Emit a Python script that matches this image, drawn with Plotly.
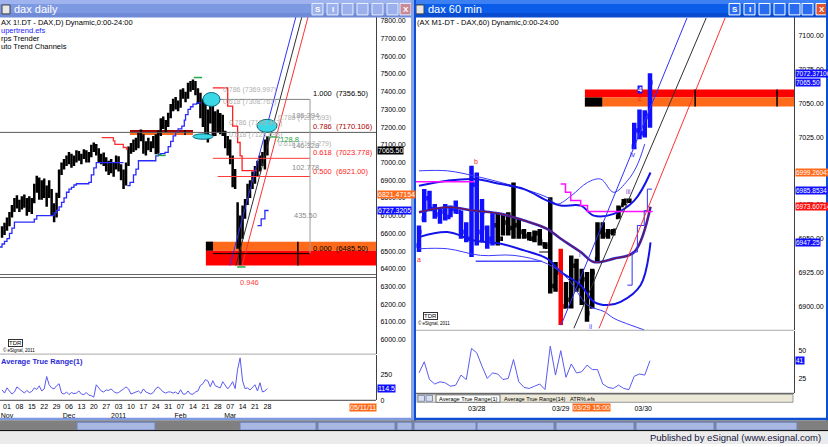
import plotly.graph_objects as go

W, H = 828, 447

# ---------------- left window: DAX daily (bar 0 = 01 Nov 2010) ----------------
daily_idx = list(range(-2, 106))
daily_open = [6600, 6620, 6645, 6670, 6700, 6745, 6790, 6760, 6775, 6795, 6760, 6790,
              6740, 6785, 6860, 6900, 6810, 6880, 6830, 6860, 6820, 6740,
              6700, 6810, 6950, 6990, 7000, 7010, 7035, 6995, 7030, 7050,
              7025, 7040, 7060, 7015, 7045, 7085, 7095, 7060, 7020, 7035,
              7000, 6970, 6990, 6960, 6985, 7020, 6970, 6930, 6880, 6990,
              7080, 7090, 7110, 7090, 7160, 7150, 7080, 7100, 7090, 7110,
              7130, 7060, 7170, 7240, 7210, 7220, 7270, 7320, 7340, 7330,
              7320, 7400, 7380, 7370, 7440, 7420, 7450, 7400, 7350, 7280,
              7330, 7180, 7280, 7300, 7180, 7260, 7200, 7250, 7170, 7100,
              7120, 7010, 6880, 6760, 6560, 6650, 6700, 6770, 6860, 6880,
              6920, 6950, 6990, 7020, 7000, 7100]
daily_high = [6640, 6660, 6690, 6720, 6760, 6800, 6815, 6790, 6810, 6820, 6800, 6810,
              6800, 6880, 6925, 6915, 6900, 6910, 6870, 6900, 6850, 6770,
              6830, 6960, 7000, 7020, 7040, 7060, 7050, 7040, 7070, 7065,
              7050, 7075, 7070, 7060, 7100, 7113, 7105, 7080, 7050, 7057,
              7030, 7010, 7020, 7000, 7040, 7035, 6990, 6960, 7000, 7090,
              7110, 7130, 7140, 7170, 7187, 7160, 7120, 7140, 7120, 7150,
              7160, 7180, 7250, 7260, 7240, 7281, 7330, 7360, 7370, 7350,
              7412, 7420, 7400, 7450, 7460, 7469, 7460, 7420, 7394, 7360,
              7380, 7300, 7350, 7340, 7290, 7300, 7280, 7270, 7180, 7150,
              7130, 7040, 6963, 6775, 6701, 6757, 6794, 6880, 6900, 6950,
              6980, 7010, 7040, 7060, 7130, 7148]
daily_low = [6575, 6590, 6615, 6640, 6690, 6720, 6740, 6720, 6735, 6745, 6700, 6720,
             6710, 6770, 6830, 6790, 6790, 6800, 6750, 6800, 6700, 6663,
             6690, 6800, 6930, 6960, 6980, 6990, 6970, 6980, 7000, 7010,
             6990, 7020, 7000, 7000, 7030, 7060, 7040, 7000, 6990, 6980,
             6950, 6930, 6940, 6920, 6960, 6950, 6900, 6850, 6870, 6980,
             7050, 7060, 7070, 7080, 7120, 7050, 7040, 7070, 7060, 7080,
             7047, 7050, 7150, 7190, 7170, 7200, 7250, 7290, 7300, 7290,
             7310, 7360, 7340, 7360, 7400, 7410, 7380, 7330, 7250, 7200,
             7140, 7113, 7220, 7150, 7150, 7170, 7160, 7150, 7080, 7040,
             6990, 6860, 6850, 6513, 6420, 6570, 6682, 6760, 6800, 6850,
             6880, 6920, 6950, 6980, 6960, 7040]
daily_close = [6620, 6645, 6670, 6700, 6745, 6790, 6760, 6775, 6795, 6760, 6790, 6740,
               6785, 6860, 6900, 6810, 6880, 6830, 6860, 6820, 6740, 6700,
               6810, 6950, 6990, 7000, 7010, 7035, 6995, 7030, 7050, 7025,
               7040, 7060, 7015, 7045, 7085, 7095, 7060, 7020, 7035, 7000,
               6970, 6990, 6960, 6985, 7020, 6970, 6930, 6880, 6990, 7080,
               7090, 7110, 7090, 7160, 7150, 7080, 7100, 7090, 7110, 7130,
               7060, 7170, 7240, 7210, 7220, 7270, 7320, 7340, 7330, 7320,
               7400, 7380, 7370, 7440, 7420, 7450, 7400, 7350, 7280, 7330,
               7180, 7280, 7300, 7180, 7260, 7200, 7250, 7170, 7100, 7120,
               7010, 6880, 6900, 6560, 6650, 6700, 6770, 6860, 6880, 6920,
               6950, 6990, 7020, 7000, 7100, 7065.5]
daily_atr = [100, 70, 120, 90, 60, 80, 130, 110, 90, 70, 95, 75,
             85, 120, 105, 140, 90, 110, 230, 150, 120, 110,
             140, 160, 70, 60, 80, 55, 75, 65, 70, 90,
             60, 55, 75, 50, 45, 30, 150, 120, 90, 80,
             100, 95, 110, 85, 70, 75, 90, 110, 130, 110,
             60, 70, 80, 90, 67, 110, 80, 70, 60, 75,
             113, 130, 100, 80, 70, 81, 80, 70, 80, 60,
             102, 60, 60, 90, 60, 59, 80, 90, 144, 160,
             200, 187, 130, 190, 140, 130, 120, 180, 150, 110,
             140, 180, 113, 300, 410, 187, 112, 120, 100, 130,
             150, 90, 170, 80, 90, 114.5]
daily_tickvals = [0, 5, 10, 15, 20, 25, 30, 35, 40, 45, 50, 55, 60, 65, 70, 75, 80, 85, 90, 95, 100, 105]
daily_ticktext = ['01<br>Nov', '08', '15', '22', '29', '06<br>Dec', '13', '20', '27', '03<br>2011', '10',
                  '17', '24', '31', '07<br>Feb', '14', '21', '28', '07<br>Mar', '14', '21', '28']
daily_price_ticks = [6000, 6100, 6200, 6300, 6400, 6500, 6600, 6700, 6800, 6900,
                     7000, 7100, 7200, 7300, 7400, 7500, 7600, 7700, 7800]

# supertrend / arps steps (bar index, price)
st_blue1_x = [-3, -2, -1, 0, 1, 2, 3, 11, 12, 19, 20, 21, 22, 23, 24, 25, 26, 27, 28, 33, 34, 35, 36, 47]
st_blue1_y = [6523, 6540, 6555, 6570, 6600, 6630, 6663, 6680, 6700, 6716, 6730, 6750, 6775, 6800,
              6832, 6850, 6860, 6873, 6880, 6888, 6930, 6970, 7000, 7000]
st_red1_x = [38.2, 42.9, 43.5, 46.9, 48.3]
st_red1_y = [7141, 7122, 7103, 7085, 7071]
st_blue2_x = [48.5, 49.6, 51, 52, 53, 60, 61, 62, 63.7, 65, 66, 67, 68, 69, 70.5, 71.5, 72, 73, 74, 75, 76.5, 78]
st_blue2_y = [6870, 6888, 6930, 6963, 7010, 7038, 7045, 7050, 7057, 7090, 7120, 7150, 7170, 7190,
              7206, 7240, 7270, 7300, 7315, 7330, 7337, 7341]
st_red2_x = [83, 89, 91, 93, 94, 94.8, 100.8]
st_red2_y = [7422, 7319, 7206, 7113, 7038, 6954, 6954]
st_blue3_x = [101, 102.5, 104, 105.5]
st_blue3_y = [6644, 6682, 6729, 6729]

fib_ratio = ['1.000', '0.786', '0.618', '0.500', '0.000']
fib_price = [7356.5, 7170.106, 7023.778, 6921.0, 6485.5]
fib_label = ['(7356.50)', '(7170.106)', '(7023.778)', '(6921.00)', '(6485.50)']
fib_gap = ['186.394', '146.328', '102.778', '435.50']

# auto trend channel (start/end of each line: bar index, price)
d_chan = {'blue': ([89.9, 116.5], [6418, 7822.5]),
          'black': ([92.3, 118.9], [6418, 7822.5]),
          'red': ([94.8, 121.4], [6418, 7822.5])}

# ---------------- right window: DAX 60 min ----------------
hourly_idx = list(range(45))
hourly_open = [6945, 6965, 6980, 6972, 6968, 6970, 6966, 6972, 6970, 6955, 6950, 6990, 6955, 6958, 6950,
               6960, 6950, 6962, 6958, 6960, 6955, 6952, 6950, 6954, 6946, 6946, 6915, 6925, 6900, 6905,
               6930, 6915, 6920, 6900, 6935, 6955, 6953, 6955, 6966, 6975, 6978, 7018, 7030, 7028, 7040]
hourly_high = [6959.8, 6986.7, 6985.5, 6975.7, 6972.0, 6975.7, 6974.5, 6978.2, 6970.8, 6962.2, 7003.9, 6999.0,
               6979.4, 6959.8, 6969.6, 6968.4, 6968.4, 6969.6, 6991.6, 6964.7, 6957.3, 6954.9, 6956.1, 6957.3,
               6947.5, 6980.6, 6932.8, 6942.6, 6918.1, 6937.7, 6935.3, 6927.9, 6925.5, 6927.9, 6962.2, 6962.2,
               6957.3, 6957.3, 6974.5, 6979.4, 6979.4, 7035.8, 7045.6, 7045.0, 7072.4]
hourly_low = [6940.2, 6962.2, 6970.8, 6964.7, 6961.0, 6963.5, 6965.9, 6968.4, 6950.0, 6947.5, 6936.5, 6945.1,
              6947.5, 6942.6, 6945.1, 6945.1, 6952.4, 6952.4, 6950.0, 6950.0, 6950.0, 6948.7, 6947.5, 6945.1,
              6942.6, 6909.5, 6910.8, 6886.2, 6898.5, 6898.5, 6910.8, 6901.0, 6888.7, 6898.5, 6932.8, 6950.0,
              6950.0, 6952.4, 6964.7, 6974.5, 6976.9, 7016.2, 7023.5, 7024.8, 7032.1]
hourly_close = [6955, 6980, 6972, 6968, 6970, 6966, 6972, 6970, 6955, 6950, 6990, 6955, 6970, 6950, 6960,
                6950, 6962, 6958, 6960, 6955, 6952, 6950, 6954, 6948, 6944, 6915, 6925, 6900, 6905, 6930,
                6915, 6920, 6895, 6925, 6955, 6953, 6955, 6956, 6972, 6978, 6978, 7030, 7028, 7040, 7065.5]
hourly_trend = 'BBBBBBBBBBBBBBBKKKKKKKKKKKKRKKKKKKKKKKKKKBBBB'
hourly_atr = [30, 40, 24, 20, 22, 21, 18, 19, 28, 24, 52, 48, 36, 25, 30, 29, 24, 25, 42, 22,
              17, 16, 18, 20, 15, 54, 28, 50, 26, 38, 30, 31, 37, 33, 33, 20, 17, 16, 19, 16,
              15, 27, 29, 28, 41]
hourly_tickvals = [11, 27, 42.7]
hourly_ticktext = ['03/28', '03/29', '03/30']
hourly_price_ticks = [6900, 6925, 6950, 6975, 7000, 7025, 7050, 7075, 7100]

band_x = [0, 5.4, 10.5, 15.6, 20, 24.4, 27, 30.8, 33.3, 37.1, 41, 44.1]
band_up = [6989.2, 6992.9, 6994.1, 6990.4, 6986.7, 6978.2, 6974.5, 6974.5, 6967.1, 6968.4, 6978.2, 6999.0]
band_mid = [6969.6, 6973.3, 6970.8, 6968.4, 6963.5, 6957.3, 6950.0, 6940.2, 6932.8, 6935.3, 6940.2, 6973.6]
band_lo_x = [0, 5.4, 10.5, 15.6, 20, 24.4, 27, 30.8, 33.3, 35.9, 38.4, 42.2, 44.1]
band_lo = [6951.2, 6954.9, 6948.7, 6946.3, 6941.4, 6935.3, 6925.5, 6915.7, 6903.4, 6901.0, 6903.4, 6915.7, 6947.3]
outer_up_x = [0, 5.4, 10.5, 15.6, 20, 24.4, 26.4, 29, 32.1, 34.6, 37.1, 39.7, 41.5, 43]
outer_up = [7000.2, 7000.2, 6996.5, 6991.6, 6986.7, 6980.6, 6975.7, 6981.8, 6991.6, 6994.1, 6984.3,
            6992.9, 7003.9, 7020]
outer_lo_x = [0, 5.4, 11.7, 18.1, 24.4, 28.3, 32.1, 35.3, 37.1, 40.3, 42.9]
outer_lo = [6942.6, 6942.6, 6937.7, 6937.7, 6931.6, 6920.6, 6901.0, 6896.1, 6891.2, 6886.2, 6882.6]
magenta_x = [27.0, 27.9, 28.9, 30.8, 32.1, 38.4, 44.5]
magenta_y = [6990.4, 6984.3, 6978.2, 6974.5, 6970.1, 6970.1, 6970.1]
env_x = [39.7, 40.6, 41.6, 42.9, 43.5, 44.4]
env_y = [6915.7, 6940.2, 6959.8, 6970.8, 6986.7, 6986.7]
h_chan = {'blue': ([27.05, 51.05], [6886.0, 7113.2]),
          'black': ([29.5, 54.7], [6883.8, 7113.2]),
          'red': ([34.3, 58.3], [6883.8, 7113.2])}

chan_colors = {'blue': '#3030ff', 'black': '#303030', 'red': '#ff3030'}


def fx(px):
    return px / W


def fy(py):
    return 1 - py / H


fig = go.Figure()

# ---- left traces
fig.add_trace(go.Ohlc(x=daily_idx, open=daily_open, high=daily_high, low=daily_low, close=daily_close,
                      increasing=dict(line=dict(color='black', width=2.5)),
                      decreasing=dict(line=dict(color='black', width=2.5)),
                      tickwidth=0.4, xaxis='x', yaxis='y', hoverinfo='skip'))
for xs, ys, col in [(st_blue1_x, st_blue1_y, '#2a2aff'), (st_red1_x, st_red1_y, '#ff3030'),
                    (st_blue2_x, st_blue2_y, '#2a2aff'), (st_red2_x, st_red2_y, '#ff2020'),
                    (st_blue3_x, st_blue3_y, '#2a2aff')]:
    fig.add_trace(go.Scatter(x=xs, y=ys, mode='lines', line=dict(color=col, width=1.3, shape='hv'),
                             xaxis='x', yaxis='y', hoverinfo='skip'))
for col, (xs, ys) in d_chan.items():
    fig.add_trace(go.Scatter(x=xs, y=ys, mode='lines', line=dict(color=chan_colors[col], width=1),
                             xaxis='x', yaxis='y', hoverinfo='skip'))
fig.add_trace(go.Scatter(x=daily_idx, y=daily_atr, mode='lines', line=dict(color='#5a5af0', width=1),
                         xaxis='x2', yaxis='y2', hoverinfo='skip'))
# small swing markers
fig.add_trace(go.Scatter(x=[77, 62.3, 94.5, 107], y=[7480, 7040, 6410, 7145], mode='markers',
                         marker=dict(symbol='line-ew', size=6, line=dict(color='#22aa44', width=1.5)),
                         xaxis='x', yaxis='y', hoverinfo='skip'))

# ---- right traces
for code, col in [('B', '#1010ff'), ('K', 'black'), ('R', '#ff0000')]:
    sel = [i for i in hourly_idx if hourly_trend[i] == code]
    fig.add_trace(go.Ohlc(x=sel, open=[hourly_open[i] for i in sel], high=[hourly_high[i] for i in sel],
                          low=[hourly_low[i] for i in sel], close=[hourly_close[i] for i in sel],
                          increasing=dict(line=dict(color=col, width=4.5)),
                          decreasing=dict(line=dict(color=col, width=4.5)),
                          tickwidth=0.5, xaxis='x3', yaxis='y3', hoverinfo='skip'))
band_traces = [(outer_up_x, outer_up, '#3a3aff', 1), (band_x, band_up, '#1414e8', 2),
               (band_x, band_mid, '#2a2ad0', 2.6), (band_x, band_mid, '#8a1030', 1),
               (band_lo_x, band_lo, '#1414e8', 2), (outer_lo_x, outer_lo, '#3a3aff', 1)]
for xs, ys, col, wd in band_traces:
    fig.add_trace(go.Scatter(x=xs, y=ys, mode='lines', line=dict(color=col, width=wd, shape='spline'),
                             xaxis='x3', yaxis='y3', hoverinfo='skip'))
fig.add_trace(go.Scatter(x=magenta_x, y=magenta_y, mode='lines', line=dict(color='#ff10ff', width=1.5, shape='hv'),
                         xaxis='x3', yaxis='y3', hoverinfo='skip'))
fig.add_trace(go.Scatter(x=[-0.6, 10.5], y=[6992.1, 6992.1], mode='lines', line=dict(color='#ff10ff', width=1.5),
                         xaxis='x3', yaxis='y3', hoverinfo='skip'))
fig.add_trace(go.Scatter(x=env_x, y=env_y, mode='lines', line=dict(color='#3030ff', width=1, shape='hv'),
                         xaxis='x3', yaxis='y3', hoverinfo='skip'))
fig.add_trace(go.Scatter(x=[10.8, 23.5], y=[6933.3, 6933.3], mode='lines', line=dict(color='#4a4aff', width=1.5),
                         xaxis='x3', yaxis='y3', hoverinfo='skip'))
fig.add_trace(go.Scatter(x=[22.9, 25.1], y=[6940.2, 6940.2], mode='lines', line=dict(color='black', width=1),
                         xaxis='x3', yaxis='y3', hoverinfo='skip'))
for col, (xs, ys) in h_chan.items():
    fig.add_trace(go.Scatter(x=xs, y=ys, mode='lines', line=dict(color=chan_colors[col], width=1),
                             xaxis='x3', yaxis='y3', hoverinfo='skip'))
fig.add_trace(go.Scatter(x=hourly_idx, y=hourly_atr, mode='lines', line=dict(color='#5a5af0', width=1),
                         xaxis='x4', yaxis='y4', hoverinfo='skip'))

shapes = []


def rect(x0, x1, y0, y1, fill, xref='paper', yref='paper', line=None, layer='above'):
    shapes.append(dict(type='rect', x0=x0, x1=x1, y0=y0, y1=y1, xref=xref, yref=yref,
                       fillcolor=fill, line=dict(width=0) if line is None else line, layer=layer))


def seg(x0, x1, y0, y1, col, wd=1, xref='paper', yref='paper', layer='above', dash='solid'):
    shapes.append(dict(type='line', x0=x0, x1=x1, y0=y0, y1=y1, xref=xref, yref=yref,
                       line=dict(color=col, width=wd, dash=dash), layer=layer))


# left zones
rect(80.2, 160, 6502.2, 6552.8, '#ff6a1a', 'x', 'y', layer='below')
rect(80.2, 160, 6418, 6502.2, '#ff0000', 'x', 'y', layer='below')
rect(80.2, 83.1, 6502.2, 6552.8, 'black', 'x', 'y', layer='below')
seg(117.3, 117.3, 6418, 6552.8, 'black', 1.5, 'x', 'y')
rect(49.6, 75, 7170, 7183.7, '#a00000', 'x', 'y', layer='below')
rect(49.6, 75, 7155, 7170, '#ff6a1a', 'x', 'y', layer='below')
seg(71.8, 71.8, 7155, 7184, 'black', 1.5, 'x', 'y')
# fib levels
fib_cols = ['#808080', '#5a5a5a', '#ff3a3a', '#ff3a3a', 'black']
fib_x0 = [83, -5, 83, 85, 83]
fib_x1 = [122.2, 160, 122.2, 122.2, 122.2]
for p, c, a, b in zip(fib_price, fib_cols, fib_x0, fib_x1):
    seg(a, b, p, p, c, 1, 'x', 'y')
seg(122.2, 122.2, fib_price[-1], fib_price[0], '#9a9a9a', 1, 'x', 'y')
seg(-5, 160, 6367.4, 6367.4, '#606060', 1, 'x', 'y')
seg(-5, 160, 6350.6, 6350.6, '#606060', 1, 'x', 'y')
# cyan ellipses
for x0, x1, y0, y1 in [(79.0, 85.9, 7316.9, 7395.5), (75.0, 83.1, 7131.5, 7162), (100.8, 108.9, 7170.8, 7243.8)]:
    shapes.append(dict(type='circle', xref='x', yref='y', x0=x0, x1=x1, y0=y0, y1=y1,
                       fillcolor='#3ad8e6', line=dict(color='#0b6d7d', width=1), layer='above'))
# right zone
rect(31.6, 90, 7054.4, 7060.3, '#ff0000', 'x3', 'y3', layer='below')
rect(31.6, 90, 7047.8, 7054.4, '#ff6a1a', 'x3', 'y3', layer='below')
rect(31.6, 34.9, 7047.8, 7054.4, 'black', 'x3', 'y3', layer='below')
seg(52.6, 52.6, 7047.8, 7060.3, 'black', 1.5, 'x3', 'y3')
seg(68.2, 68.2, 7047.8, 7060.3, 'black', 1.5, 'x3', 'y3')

# panel separators
seg(0, fx(376), fy(356.5), fy(356.5), '#a8a8a8')
seg(0, fx(376), fy(403), fy(403), '#404040')
seg(fx(416), fx(794), fy(332.5), fy(332.5), '#a8a8a8')
seg(fx(416), fx(794), fy(396), fy(396), '#404040')

# tab strip in right window
rect(fx(417), fx(793), fy(405), fy(397), '#ece9d8', line=dict(color='#9a9a9a', width=1))
rect(fx(418), fx(424.5), fy(404), fy(398), '#d8e0f0', line=dict(color='#8090b0', width=1))
rect(fx(426), fx(432.5), fy(404), fy(398), '#d8e0f0', line=dict(color='#8090b0', width=1))
rect(fx(436), fx(500), fy(405), fy(397.5), 'white', line=dict(color='#707070', width=1))

# title bars
for y0, y1, c in [(0, 4, '#9fb4ee'), (4, 13, '#7d99e2'), (13, 17.5, '#6f8bd8')]:
    rect(0, fx(412), fy(y1), fy(y0), c)
for y0, y1, c in [(0, 4, '#3d80f4'), (4, 13, '#0b5ce8'), (13, 17.5, '#0a4cd0')]:
    rect(fx(414), 1, fy(y1), fy(y0), c)
rect(fx(2), fx(10), fy(14), fy(5), '#e8e8e8', line=dict(color='#404040', width=1))
rect(fx(416), fx(424), fy(14), fy(5), '#e8e8e8', line=dict(color='#404040', width=1))
left_btns = [312, 327, 342, 357, 372, 387, 400]
right_btns = [729, 744, 759, 774, 789, 802, 816]
for k, bx in enumerate(left_btns):
    rect(fx(bx), fx(bx + 11), fy(15), fy(3.5), '#c98a98' if k == 6 else '#9cb1ec',
         line=dict(color='#e8eefc', width=1))
for k, bx in enumerate(right_btns):
    rect(fx(bx), fx(bx + 11), fy(15), fy(3.5), '#e0552e' if k == 6 else '#2a6cf0',
         line=dict(color='white', width=1))

# window borders and desktop strip
rect(fx(411), fx(414), 0, 1, '#8aa2e6')
rect(fx(414), fx(416), 0, 1, '#0a4fd6')
rect(fx(826), 1, 0, 1, '#0a4fd6')
rect(0, fx(413), fy(423), fy(420.5), '#7d99e2')
rect(fx(414), 1, fy(423), fy(420.5), '#0a4fd6')
rect(0, 1, fy(433), fy(423), '#808080')
for a, b in [(77, 155), (240, 316), (318, 395), (397, 412), (414, 476), (477, 554), (556, 634), (636, 714), (716, 797)]:
    rect(fx(a), fx(b), fy(433), fy(425), '#a9b8e2', line=dict(color='#6c80c0', width=1))
rect(0, 1, 0, fy(433), '#ebebeb')
seg(0, 1, fy(433.5), fy(433.5), 'black', 1)

anns = []


def txt(text, x, y, xref='paper', yref='paper', size=7.5, color='black', xanchor='left', yanchor='middle',
        bg=None, bold=False, family='Liberation Sans', **kw):
    d = dict(text=text, x=x, y=y, xref=xref, yref=yref, showarrow=False, xanchor=xanchor, yanchor=yanchor,
             font=dict(size=size, color=color, family=family, weight='bold' if bold else 'normal'),
             borderpad=0)
    if bg:
        d['bgcolor'] = bg
    d.update(kw)
    anns.append(d)


# window titles and header texts
txt('dax daily', fx(13), fy(9), size=11, color='white')
txt('dax 60 min', fx(427), fy(9), size=11, color='white')
for k, bx in enumerate(left_btns[:2]):
    txt('SI'[k], fx(bx + 5.5), fy(9.5), size=8, color='white', xanchor='center', bold=True)
for k, bx in enumerate(right_btns[:2]):
    txt('SI'[k], fx(bx + 5.5), fy(9.5), size=8, color='white', xanchor='center', bold=True)
txt('X', fx(405.5), fy(9.5), size=8, color='white', xanchor='center', bold=True)
txt('X', fx(821.5), fy(9.5), size=8, color='white', xanchor='center', bold=True)
txt('AX 1!.DT - DAX,D) Dynamic,0:00-24:00', 0, fy(22.5))
txt('upertrend.efs', 0, fy(30.5), color='#1a1aff')
txt('rps Trender', 0, fy(38.5))
txt('uto Trend Channels', 0, fy(46.5))
txt('(AX M1-DT - DAX,60) Dynamic,0:00-24:00', fx(416), fy(22.5))
txt('Average True Range(1)', 0, fy(363.5), color='#2a2ad8', bold=True)
txt('Average True Range(1)', fx(438), fy(401.5), size=5.6)
txt('Average True Range(14)', fx(503), fy(401.5), size=5.6)
txt('ATR%.efs', fx(569), fy(401.5), size=5.6)
txt('Published by eSignal (www.esignal.com)', fx(822), fy(440.5), size=9.5, color='#14143c', xanchor='right')
# TDR stamps
txt('TDR', fx(8), fy(345), size=6, bordercolor='#303030', borderwidth=1)
txt('© eSignal, 2011', fx(2), fy(352), size=4.5)
txt('TDR', fx(423), fy(318), size=6, bordercolor='#303030', borderwidth=1)
txt('© eSignal, 2011', fx(417), fy(325), size=4.5)

# fib labels
fib_txt_cols = ['black', '#b00000', '#ff2020', '#ff2020', 'black']
for r, p, lab, c in zip(fib_ratio, fib_price, fib_label, fib_txt_cols):
    txt(r + '  ' + lab, 123, p, 'x', 'y', color=c, yanchor='bottom')
for k, g in enumerate(fib_gap):
    txt(g, 120.3, (fib_price[k] + fib_price[k + 1]) / 2, 'x', 'y', color='#8a8a8a', xanchor='center')
faint = [('0.786 (7369.997)', 86.7, 7412), ('0.618 (7308.761)', 86.7, 7339),
         ('0.786 (7196.457)', 89, 7221), ('0.618 (7128.696)', 89, 7154),
         ('0.786 (7232.693)', 109, 7250), ('0.618 (7107.279)', 109, 7105)]
for t, xi, p in faint:
    txt(t, xi, p, 'x', 'y', color='#b0b0b0', size=7)
txt('7128.8', 108, 7131, 'x', 'y', color='#22a040')
txt('0.946', 97.6, 6356, 'x', 'y', color='#ff4040', xanchor='center', yanchor='top')

# wave labels on hourly chart
for t, xi, p, c in [('a', 0, 6935, '#ff2020'), ('b', 10.9, 7007, '#ff2020'), ('i', 30.6, 6938, '#4a4aff'),
                    ('ii', 32.7, 6885, '#4a4aff'), ('iii', 40, 6985, '#8a4ad8'), ('iv', 40.8, 7012, '#2a2aff'),
                    ('c', 42.1, 7054, '#ff2020')]:
    txt(t, xi, p, 'x3', 'y3', size=7, color=c, xanchor='center')
txt('4', 42.1, 7060, 'x3', 'y3', size=7, color='white', xanchor='center', bg='#1a1aff', bold=True)

# value tags on the price scales
for t, p, bg, ya in [('7065.50', 7065.5, 'black', 'y'), ('6821.47154', 6821.47, '#ff6a1a', 'y'),
                     ('6727.3205', 6727.32, '#1010ff', 'y'), ('114.5', 114.5, '#1010ff', 'y2')]:
    txt(t, fx(377), p, 'paper', ya, color='white', bg=bg, size=7)
for t, p, bg, ya in [('7072.37106', 7072.37, '#1010ff', 'y3'), ('7065.50', 7065.5, '#1010ff', 'y3'),
                     ('6999.26047', 6999.26, '#ff6a1a', 'y3'), ('6985.8534', 6985.85, '#1010ff', 'y3'),
                     ('6973.60714', 6973.6, '#ff1010', 'y3'), ('6947.25', 6947.25, '#1010ff', 'y3'),
                     ('41', 41, '#1010ff', 'y4')]:
    txt(t, fx(795), p, 'paper', ya, color='white', bg=bg, size=6.5)
txt('05/11/11', fx(363), fy(410.5), color='white', bg='#ff6a1a', xanchor='center', size=7)
txt('03/29 15:00', fx(591), fy(410.5), color='white', bg='#ff6a1a', xanchor='center', size=7)

tick_font = dict(family='Liberation Sans', size=7, color='black')
yax = dict(side='right', showgrid=False, zeroline=False, showline=True, linecolor='#404040', linewidth=1,
           ticks='', tickfont=tick_font, ticklabelstandoff=2, fixedrange=True)
xax = dict(showgrid=False, zeroline=False, showline=False, ticks='', tickfont=tick_font, tickangle=0,
           rangeslider=dict(visible=False), fixedrange=True)

fig.update_layout(
    width=W, height=H, margin=dict(l=0, r=0, t=0, b=0), showlegend=False,
    paper_bgcolor='white', plot_bgcolor='white',
    xaxis=dict(xax, domain=[0, fx(376)], range=[-2.82, 148.8], anchor='y', showticklabels=False),
    yaxis=dict(yax, domain=[fy(356.5), fy(17)], range=[5918, 7822.5], anchor='x',
               tickvals=daily_price_ticks, ticktext=[f'{v:.2f}' for v in daily_price_ticks]),
    xaxis2=dict(xax, domain=[0, fx(376)], range=[-2.82, 148.8], anchor='y2',
                tickvals=daily_tickvals, ticktext=daily_ticktext, ticklabelstandoff=1),
    yaxis2=dict(yax, domain=[fy(403), fy(357)], range=[0, 441.6], anchor='x2',
                tickvals=[0, 250], ticktext=['0', '250']),
    xaxis3=dict(xax, domain=[fx(416), fx(794)], range=[-0.571, 71.43], anchor='y3', showticklabels=False),
    yaxis3=dict(yax, domain=[fy(332.5), fy(17)], range=[6882.35, 7114], anchor='x3',
                tickvals=hourly_price_ticks, ticktext=[f'{v:.2f}' for v in hourly_price_ticks]),
    xaxis4=dict(xax, domain=[fx(416), fx(794)], range=[-0.571, 71.43], anchor='y4',
                tickvals=hourly_tickvals, ticktext=hourly_ticktext, ticklabelstandoff=10),
    yaxis4=dict(yax, domain=[fy(396), fy(333)], range=[11.6, 67.9], anchor='x4',
                tickvals=[25, 50], ticktext=['25', '50']),
    shapes=shapes, annotations=anns,
)

fig.write_html('out.html', config={'displayModeBar': False},
               post_script="document.body.style.margin='0';document.body.style.overflow='hidden';")
